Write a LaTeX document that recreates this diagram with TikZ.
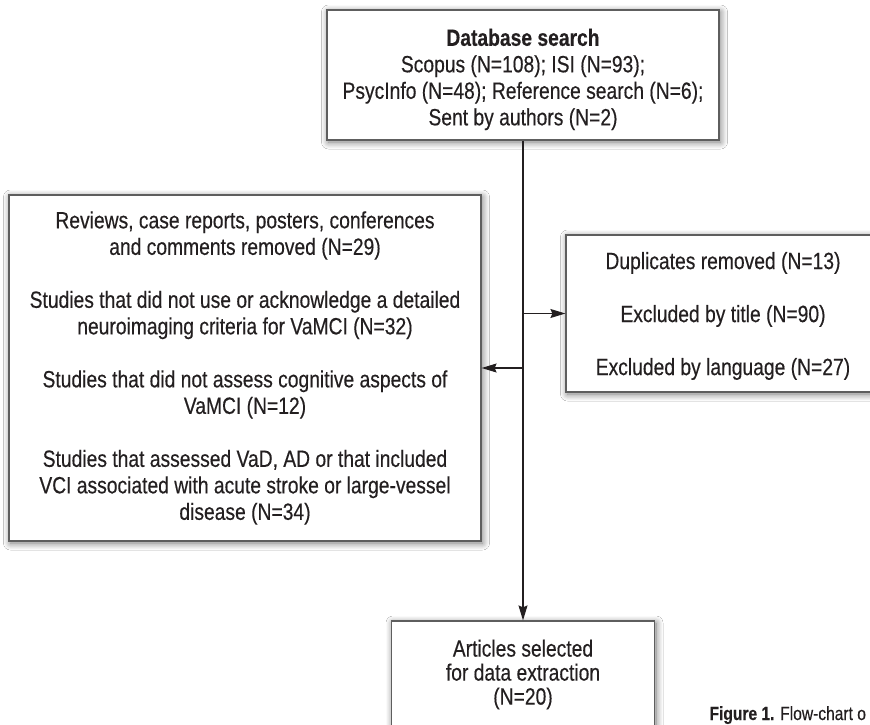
\documentclass[tikz,border=0pt]{standalone}
\usepackage{fontspec}
\setmainfont{Liberation Sans}[FakeStretch=0.82, FakeBold=0.35]
\usepackage{tikz}
\usetikzlibrary{arrows.meta,positioning,shadows.blur}
\definecolor{ink}{HTML}{231F20}
\definecolor{boxline}{HTML}{5E5E5E}

\begin{document}
\begin{tikzpicture}[x=1pt,y=-1pt,
    every node/.style={font=\fontsize{23.5}{26.5}\selectfont, text=ink},
    box/.style={draw=boxline, line width=1.2pt, fill=white, align=center, inner sep=0pt,
        blur shadow={shadow xshift=1.5pt, shadow yshift=-2pt, shadow blur radius=7pt, shadow blur steps=12, shadow opacity=55}},
    link/.style={line width=1.1pt, draw=ink, -{Stealth[length=15pt,width=9pt,inset=2pt]}}]
    \clip (0,0) rectangle (870,725);
    \fill[white] (0,0) rectangle (870,725);
    \node[box, minimum width=392pt, minimum height=130pt] (search) at (523,75)
        {\rule{0pt}{26pt}\textbf{Database search}\\Scopus (N=108); ISI (N=93);\\PsycInfo (N=48); Reference search (N=6);\\Sent by authors (N=2)};
    \node[box, minimum width=472pt, minimum height=346pt] (removed) at (245,368)
        {Reviews, case reports, posters, conferences\\and comments removed (N=29)\\[26.5pt]
         Studies that did not use or acknowledge a detailed\\neuroimaging criteria for VaMCI (N=32)\\[26.5pt]
         Studies that did not assess cognitive aspects of\\VaMCI (N=12)\\[26.5pt]
         Studies that assessed VaD, AD or that included\\VCI associated with acute stroke or large-vessel\\disease (N=34)};
    \node[box, minimum width=314pt, minimum height=157pt] (excluded) at (723,313.5)
        {\rule{0pt}{22pt}Duplicates removed (N=13)\\[26.5pt]Excluded by title (N=90)\\[26.5pt]Excluded by language (N=27)};
    \node[box, minimum width=263pt, minimum height=107pt, font=\fontsize{23.5}{24}\selectfont] (selected) at (523,674.5)
        {Articles selected\\for data extraction\\(N=20)};
    \node[anchor=base west, font=\fontsize{19}{22}\selectfont] (caption) at (706,720) {\textbf{Figure 1.} Flow-chart o};
    \draw[link] (search.south) -- (selected.north);
    \draw[link] (search.south |- excluded.west) -- (excluded.west);
    \draw[link] (search.south |- removed.east) -- (removed.east);
\end{tikzpicture}
\end{document}
